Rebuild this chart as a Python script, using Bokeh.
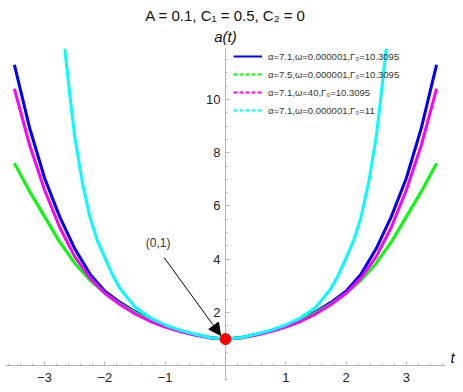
from bokeh.plotting import figure
from bokeh.models import (Range1d, LinearAxis, FixedTicker, Label, Arrow, NormalHead,
                          Legend, LegendItem)
from bokeh.embed import file_html
from bokeh.resources import INLINE

# ---- data ----
t_main = [-3.5, -3.25, -3.0, -2.75, -2.5, -2.25, -2.0, -1.75, -1.5, -1.25, -1.0, -0.75, -0.5, -0.25,
          0.0, 0.25, 0.5, 0.75, 1.0, 1.25, 1.5, 1.75, 2.0, 2.25, 2.5, 2.75, 3.0, 3.25, 3.5]
a_blue = [11.3, 8.95, 7.05, 5.6, 4.4, 3.45, 2.8, 2.38, 2.03, 1.73, 1.5, 1.32, 1.17, 1.05,
          1.0, 1.05, 1.17, 1.32, 1.5, 1.73, 2.03, 2.38, 2.8, 3.45, 4.4, 5.6, 7.05, 8.95, 11.3]
a_green = [7.6, 6.55, 5.6, 4.65, 3.85, 3.22, 2.72, 2.33, 2.0, 1.72, 1.49, 1.31, 1.16, 1.05,
           1.0, 1.05, 1.16, 1.31, 1.49, 1.72, 2.0, 2.33, 2.72, 3.22, 3.85, 4.65, 5.6, 6.55, 7.6]
a_magenta = [10.4, 8.3, 6.6, 5.2, 4.1, 3.3, 2.72, 2.3, 1.95, 1.67, 1.45, 1.28, 1.14, 1.04,
             1.0, 1.04, 1.14, 1.28, 1.45, 1.67, 1.95, 2.3, 2.72, 3.3, 4.1, 5.2, 6.6, 8.3, 10.4]
t_cyan = [-2.665, -2.5625, -2.5, -2.375, -2.25, -2.125, -2.0, -1.875, -1.75, -1.5, -1.25, -1.0,
          -0.75, -0.5, -0.25, 0.0, 0.25, 0.5, 0.75, 1.0, 1.25, 1.5, 1.75, 1.875, 2.0, 2.125,
          2.25, 2.375, 2.5, 2.5625, 2.665]
a_cyan = [11.9, 9.8, 8.6, 6.9, 5.6, 4.7, 4.05, 3.42, 2.9, 2.2, 1.8, 1.53,
          1.33, 1.18, 1.05, 1.0, 1.05, 1.18, 1.33, 1.53, 1.8, 2.2, 2.9, 3.42, 4.05, 4.7,
          5.6, 6.9, 8.6, 9.8, 11.9]

series_labels = ["α=7.1,ω=0.000001,Γ₀=10.3095", "α=7.5,ω=0.000001,Γ₀=10.3095",
                 "α=7.1,ω=40,Γ₀=10.3095", "α=7.1,ω=0.000001,Γ₀=11"]
series_colors = ["#0000ff", "#00ff00", "#ff00ff", "#00ffff"]
legend_dashes = ["solid", "4 2", "4 2", "4 2"]

x_ticks = [-3, -2, -1, 1, 2, 3]
y_ticks = [2, 4, 6, 8, 10]
x_minor = [i / 5 for i in range(-18, 19) if i % 5 != 0]
y_minor = [i / 2 for i in range(-1, 24) if i % 4 != 0]

point_t, point_a = [0.0], [1.0]
title_text = "A = 0.1, C₁ = 0.5, C₂ = 0"

# ---- figure: frame covers the whole canvas ----
W, H = 463, 392
p = figure(width=W, height=H, output_backend="svg", toolbar_location=None,
           x_range=Range1d(-3.731, 3.947), y_range=Range1d(-1.005, 13.718),
           x_axis_type=None, y_axis_type=None,
           min_border_left=0, min_border_right=0, min_border_top=0, min_border_bottom=0)
p.outline_line_color = None
p.grid.visible = False
p.background_fill_color = "white"
p.border_fill_color = "white"

axcol = "#b5b5b5"
labcol = "#222222"
xa = LinearAxis(fixed_location=0, bounds=(-3.648, 3.648),
                ticker=FixedTicker(ticks=x_ticks, minor_ticks=x_minor))
ya = LinearAxis(fixed_location=0, bounds=(-0.55, 11.92),
                ticker=FixedTicker(ticks=y_ticks, minor_ticks=y_minor))
for ax in (xa, ya):
    ax.level = "underlay"
    ax.axis_line_color = axcol
    ax.major_tick_line_color = axcol
    ax.minor_tick_line_color = axcol
    ax.major_tick_out = 0
    ax.major_tick_in = 4
    ax.minor_tick_out = 0
    ax.minor_tick_in = 2
    ax.major_label_text_color = labcol
    ax.major_label_text_font = "Liberation Sans"
    ax.major_label_text_font_size = "13px"
xa.major_label_standoff = 7
ya.major_label_standoff = 5
xa.major_label_overrides = {-3: "−3", -2: "−2", -1: "−1"}
p.add_layout(xa, "below")
p.add_layout(ya, "left")

# legend proxies drawn underneath the curves (same data, hidden by the thicker solid lines)
curve_data = [(t_main, a_blue), (t_main, a_green), (t_main, a_magenta), (t_cyan, a_cyan)]
proxies = []
for (tt, aa), c, d in zip(curve_data, series_colors, legend_dashes):
    proxies.append(p.line(tt, aa, line_color=c, line_width=2, line_dash=d))
for (tt, aa), c in zip(curve_data, series_colors):
    p.line(tt, aa, line_color=c, line_width=3, line_join="round")

legend = Legend(items=[LegendItem(label=l, renderers=[r]) for l, r in zip(series_labels, proxies)],
                location=(233, 275), border_line_color=None, background_fill_alpha=0,
                padding=0, margin=0, spacing=4, glyph_width=29, glyph_height=14,
                label_height=14, label_standoff=6, label_text_font="Liberation Sans",
                label_text_font_size="9.5px", label_text_color="#333333")
p.add_layout(legend)

# annotation arrow and point
p.add_layout(Arrow(end=NormalHead(size=12, fill_color="black", line_color="black"),
                   x_start=-1.017, y_start=4.06, x_end=-0.08, y_end=1.14,
                   line_color="black", line_width=1))
p.scatter(point_t, point_a, size=11, color="#ff0000")
p.add_layout(Label(x=-1.117, y=4.62, text="(0,1)", text_align="center", text_baseline="middle",
                   text_font="Liberation Sans", text_font_size="12px", text_color="#333333"))

# title and axis names
p.add_layout(Label(x=0, y=13.155, text=title_text, text_align="center", text_baseline="middle",
                   text_font="Liberation Sans", text_font_size="15px", text_color="#111111"))
p.add_layout(Label(x=0, y=12.367, text="a(t)", text_align="center", text_baseline="middle",
                   text_font="Liberation Sans", text_font_style="italic",
                   text_font_size="15px", text_color="#111111"))
p.add_layout(Label(x=3.764, y=0.31, text="t", text_align="center", text_baseline="middle",
                   text_font="Liberation Sans", text_font_style="italic",
                   text_font_size="15px", text_color="#111111"))

open("out.html", "w").write(file_html(p, INLINE))
